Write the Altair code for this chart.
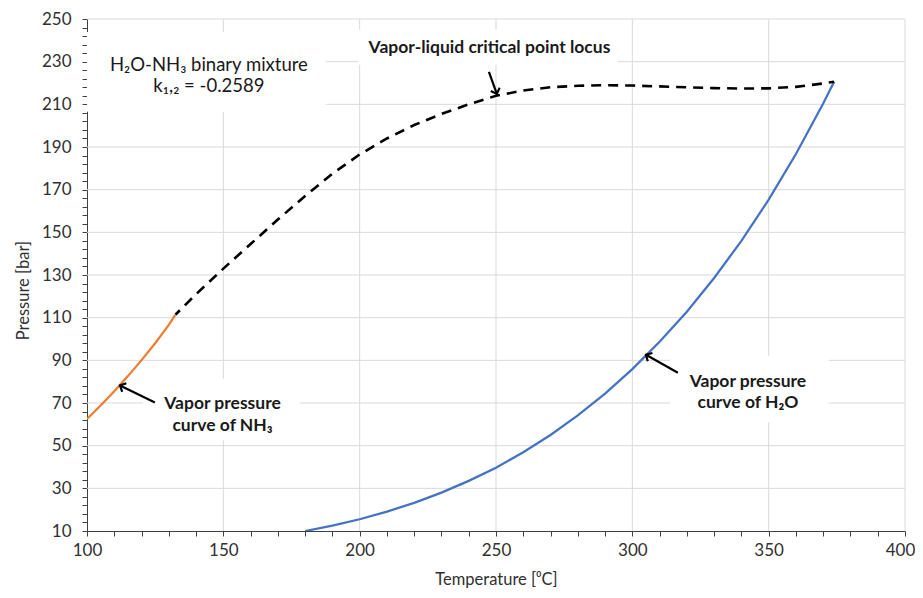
import altair as alt
import pandas as pd

# ---------------- data ----------------
nh3_T = [100, 105, 110, 115, 120, 125, 130, 132.5]
nh3_P = [62.5, 68.8, 75.5, 82.6, 90.1, 98.0, 106.6, 111.5]

h2o_T = [180, 190, 200, 210, 220, 230, 240, 250, 260, 270, 280, 290, 300,
         310, 320, 330, 340, 350, 360, 370, 374]
h2o_P = [10.0, 12.5, 15.5, 19.1, 23.2, 28.0, 33.5, 39.7, 46.9, 55.0, 64.2,
         74.4, 85.9, 98.7, 112.8, 128.6, 146.0, 165.3, 186.7, 210.4, 220.6]

crit_T = [132.5, 140, 150, 160, 170, 180, 190, 200, 210, 220, 230, 240, 250,
          260, 270, 280, 290, 300, 310, 320, 330, 340, 350, 360, 370, 374]
crit_P = [111.5, 121.0, 133.0, 144.5, 156.0, 167.0, 177.5, 186.5, 194.0,
          200.3, 205.5, 210.0, 214.0, 216.5, 218.0, 218.7, 219.0, 218.8,
          218.4, 218.0, 217.6, 217.4, 217.5, 218.2, 219.8, 220.6]

x_major = [150, 200, 250, 300, 350, 400]
y_major = [30, 50, 70, 90, 110, 130, 150, 170, 190, 210, 230, 250]
x_ticks = list(range(100, 401, 10))
y_ticks = list(range(10, 251, 4))

# annotation texts (anchor = first line, data units)
labels_text = ["H\u2082O-NH\u2083 binary mixture\nk\u2081,\u2082 = -0.2589"]
labels_T = [144.7]
labels_P = [228.3]

bold_text = ["Vapor-liquid critical point locus",
             "Vapor pressure\ncurve of NH\u2083",
             "Vapor pressure\ncurve of H\u2082O"]
bold_T = [247.6, 149.7, 342.4]
bold_P = [236.4, 69.3, 80.0]

# white label boxes (data units)
box_T1 = [100, 199.4, 120.5, 313.8]
box_T2 = [187.6, 294.7, 178.1, 372.0]
box_P1 = [206.5, 228.5, 52.5, 60.9]
box_P2 = [243.9, 245.0, 81.4, 92.2]

# arrows: tail / head points
arr_id = ["nh3", "nh3", "h2o", "h2o", "crit", "crit"]
arr_T = [124.9, 112.1, 316.7, 305.0, 247.4, 250.3]
arr_P = [70.2, 78.2, 84.2, 92.6, 225.2, 214.9]
head_T = [112.1, 305.0, 250.3]
head_P = [78.2, 92.6, 214.9]
head_angle = [205.9, 209.4, 70.0]

# ---------------- chart ----------------
W, H = 818, 512
FONT = "Lato"
AX = "#404040"
xs = alt.Scale(domain=[100, 400], nice=False, zero=False)
ys = alt.Scale(domain=[10, 250], nice=False, zero=False)

x_axis = alt.Axis(values=x_ticks, labelExpr="datum.value % 50 == 0 ? datum.label : ''",
                  grid=False, tickSize=5, labelPadding=6, labelFlush=False,
                  labelOffset=alt.ConditionalAxisNumber(
                      condition={"test": "datum.value == 400", "value": -5}, value=0),
                  labelOverlap=False, format="d", title="Temperature [\u2070C]",
                  titlePadding=13, domainColor=AX, tickColor=AX, labelColor="#303030",
                  titleColor="#303030", labelFont=FONT, titleFont=FONT,
                  labelFontSize=17, titleFontSize=16.5, titleFontWeight="normal")
y_axis = alt.Axis(values=y_ticks, labelExpr="(datum.value - 10) % 20 == 0 ? datum.label : ''",
                  grid=False, tickSize=5, labelPadding=11, labelFlush=False,
                  labelOverlap=False, format="d", title="Pressure [bar]",
                  titlePadding=10, titleY=271, domainColor=AX, tickColor=AX,
                  labelColor="#303030", titleColor="#303030", labelFont=FONT,
                  titleFont=FONT, labelFontSize=17, titleFontSize=16.5,
                  titleFontWeight="normal")


def X(f):
    return alt.X(f, scale=xs, axis=x_axis)


def Y(f):
    return alt.Y(f, scale=ys, axis=y_axis)


gx = alt.Chart(pd.DataFrame({"T": x_major})).mark_rule(color="#d9d9d9", strokeWidth=1).encode(
    x=X("T:Q"), y=alt.value(0), y2=alt.value(H))
gy = alt.Chart(pd.DataFrame({"P": y_major})).mark_rule(color="#d9d9d9", strokeWidth=1).encode(
    y=Y("P:Q"), x=alt.value(0), x2=alt.value(W))

boxes = alt.Chart(pd.DataFrame({"T": box_T1, "T2": box_T2, "P": box_P1, "P2": box_P2})).mark_rect(
    color="white").encode(x=X("T:Q"), x2="T2:Q", y=Y("P:Q"), y2="P2:Q")


def curve(T, P, color, dash=None, width=2.25):
    kw = dict(color=color, strokeWidth=width, clip=True)
    if dash:
        kw["strokeDash"] = dash
        kw["strokeDashOffset"] = 4
    return alt.Chart(pd.DataFrame({"T": T, "P": P})).mark_line(**kw).encode(
        x=X("T:Q"), y=Y("P:Q"), order="T:Q")


nh3 = curve(nh3_T, nh3_P, "#ED7D31")
h2o = curve(h2o_T, h2o_P, "#4472C4")
crit = curve(crit_T, crit_P, "black", dash=[10, 7], width=2.6)

arrows = alt.Chart(pd.DataFrame({"id": arr_id, "T": arr_T, "P": arr_P})).mark_line(
    color="black", strokeWidth=2.2).encode(x=X("T:Q"), y=Y("P:Q"), detail="id:N")
heads = alt.Chart(pd.DataFrame({"T": head_T, "P": head_P, "a": head_angle})).mark_point(
    shape="M-1,-1L0,0L-1,1", filled=False, size=90, strokeWidth=2.2, color="black",
    opacity=1).encode(x=X("T:Q"), y=Y("P:Q"), angle=alt.Angle("a:Q", scale=None))

txt = alt.Chart(pd.DataFrame({"t": labels_text, "T": labels_T, "P": labels_P})).mark_text(
    font=FONT, fontSize=18.5, color="#1a1a1a", lineBreak="\n", lineHeight=20.5,
    align="center", baseline="middle").encode(x=X("T:Q"), y=Y("P:Q"), text="t:N")
btxt = alt.Chart(pd.DataFrame({"t": bold_text, "T": bold_T, "P": bold_P})).mark_text(
    font=FONT, fontSize=17.5, fontWeight="bold", color="#1a1a1a", lineBreak="\n",
    lineHeight=21.5, align="center", baseline="middle").encode(x=X("T:Q"), y=Y("P:Q"), text="t:N")

chart = alt.layer(gx, gy, boxes, nh3, h2o, crit, arrows, heads, txt, btxt).properties(
    width=W, height=H,
    autosize=alt.AutoSizeParams(type="none"),
    padding={"left": 79, "top": 11, "right": 10, "bottom": 59},
    background="white",
).configure_view(stroke=None)

chart.save("out.html", embed_options={"renderer": "svg", "actions": False})
